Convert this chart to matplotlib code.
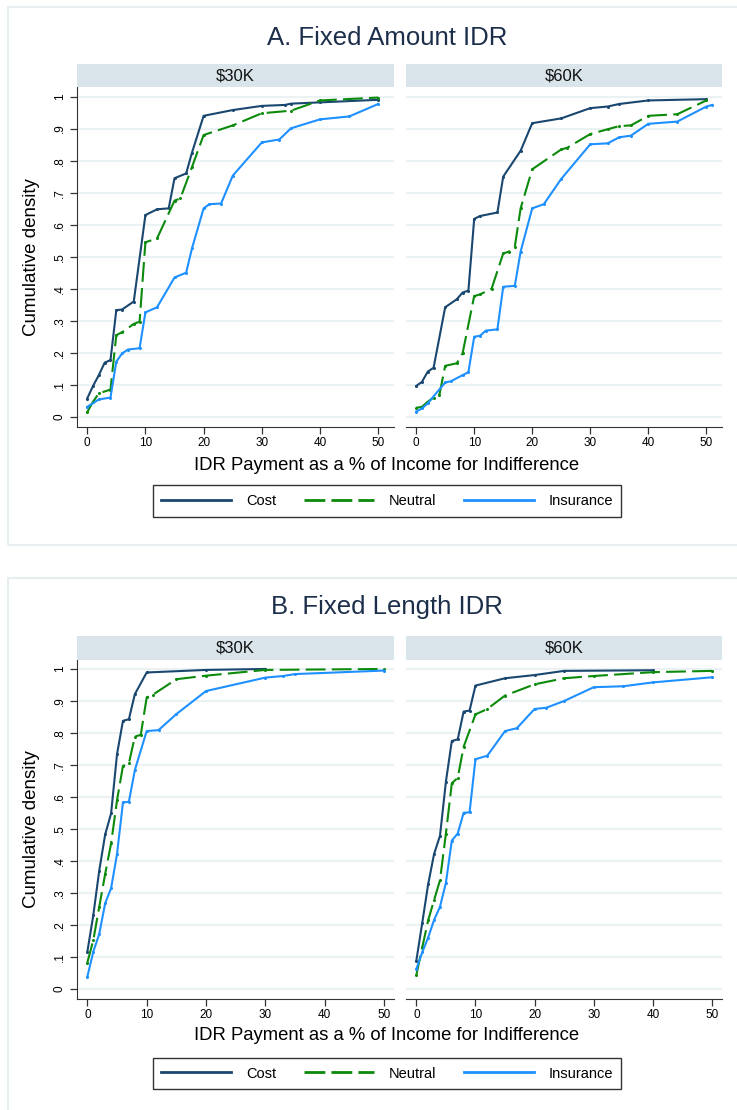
import matplotlib.pyplot as plt
from matplotlib.patches import Rectangle
from matplotlib.lines import Line2D

plt.rcParams['font.family'] = ['Liberation Sans', 'DejaVu Sans']

# ---- Panel A: Fixed Amount IDR ----
a30_cost_x = [0, 1, 2, 3, 4, 5, 6, 8, 10, 12, 14, 15, 17, 18, 20, 25, 30, 34, 35, 40, 50]
a30_cost_y = [0.057, 0.096, 0.13, 0.169, 0.177, 0.333, 0.335, 0.36, 0.63, 0.648, 0.651, 0.745,
              0.76, 0.825, 0.94, 0.958, 0.971, 0.974, 0.978, 0.982, 0.99]
a30_neut_x = [0, 1, 2, 4, 5, 6, 8, 9, 10, 12, 15, 16, 18, 20, 25, 30, 35, 40, 50]
a30_neut_y = [0.014, 0.047, 0.073, 0.085, 0.255, 0.264, 0.29, 0.297, 0.545, 0.557, 0.675, 0.682,
              0.78, 0.88, 0.91, 0.948, 0.956, 0.988, 0.997]
a30_ins_x = [0, 2, 4, 5, 6, 7, 9, 10, 12, 15, 17, 18, 20, 21, 23, 25, 30, 33, 35, 40, 45, 50]
a30_ins_y = [0.031, 0.054, 0.06, 0.172, 0.198, 0.21, 0.214, 0.326, 0.342, 0.435, 0.45, 0.526,
             0.651, 0.664, 0.666, 0.753, 0.857, 0.866, 0.901, 0.929, 0.938, 0.977]

a60_cost_x = [0, 1, 2, 3, 5, 7, 8, 9, 10, 11, 14, 15, 18, 20, 25, 30, 33, 35, 40, 50]
a60_cost_y = [0.096, 0.109, 0.141, 0.153, 0.342, 0.367, 0.388, 0.394, 0.618, 0.627, 0.638, 0.75,
              0.831, 0.917, 0.932, 0.964, 0.969, 0.977, 0.988, 0.992]
a60_neut_x = [0, 1, 2, 3, 4, 5, 7, 8, 10, 11, 13, 15, 16, 17, 18, 20, 25, 26, 30, 33, 35, 37,
              40, 45, 50]
a60_neut_y = [0.028, 0.031, 0.047, 0.06, 0.068, 0.159, 0.167, 0.198, 0.377, 0.382, 0.40, 0.51,
              0.516, 0.531, 0.651, 0.773, 0.835, 0.84, 0.883, 0.898, 0.908, 0.91, 0.94, 0.945,
              0.988]
a60_ins_x = [0, 1, 2, 5, 6, 8, 9, 10, 11, 12, 14, 15, 17, 18, 20, 22, 25, 30, 33, 35, 37, 40,
             45, 50, 51]
a60_ins_y = [0.016, 0.026, 0.042, 0.107, 0.111, 0.13, 0.139, 0.25, 0.253, 0.269, 0.273, 0.406,
             0.409, 0.516, 0.651, 0.664, 0.743, 0.851, 0.854, 0.873, 0.878, 0.915, 0.922,
             0.969, 0.974]

# ---- Panel B: Fixed Length IDR ----
b30_cost_x = [0, 1, 2, 3, 4, 5, 6, 7, 8, 10, 20, 30]
b30_cost_y = [0.117, 0.231, 0.37, 0.483, 0.549, 0.734, 0.838, 0.843, 0.921, 0.989, 0.997, 1.0]
b30_neut_x = [0, 1, 2, 3, 4, 5, 6, 7, 8, 9, 10, 11, 15, 20, 30, 50]
b30_neut_y = [0.083, 0.153, 0.257, 0.36, 0.455, 0.59, 0.697, 0.705, 0.789, 0.794, 0.911, 0.919,
              0.968, 0.979, 0.997, 1.0]
b30_ins_x = [0, 1, 2, 3, 4, 5, 6, 7, 8, 10, 12, 15, 20, 30, 33, 35, 50]
b30_ins_y = [0.039, 0.117, 0.172, 0.268, 0.315, 0.422, 0.583, 0.585, 0.684, 0.806, 0.809,
             0.859, 0.931, 0.973, 0.978, 0.984, 0.995]

b60_cost_x = [0, 1, 2, 3, 4, 5, 6, 7, 8, 9, 10, 15, 20, 25, 40]
b60_cost_y = [0.089, 0.207, 0.328, 0.422, 0.479, 0.648, 0.775, 0.78, 0.867, 0.87, 0.948, 0.971,
              0.981, 0.994, 0.996]
b60_neut_x = [0, 1, 2, 3, 4, 5, 6, 7, 8, 10, 12, 15, 20, 25, 30, 40, 50]
b60_neut_y = [0.044, 0.13, 0.215, 0.278, 0.34, 0.486, 0.643, 0.66, 0.757, 0.858, 0.875, 0.917,
              0.952, 0.971, 0.978, 0.99, 0.994]
b60_ins_x = [0, 1, 2, 3, 4, 5, 6, 7, 8, 9, 10, 12, 15, 17, 20, 22, 25, 30, 35, 40, 50]
b60_ins_y = [0.0625, 0.115, 0.161, 0.216, 0.257, 0.332, 0.464, 0.486, 0.551, 0.552, 0.718,
             0.729, 0.806, 0.815, 0.875, 0.879, 0.9, 0.943, 0.946, 0.958, 0.974]

series_names = ['Cost', 'Neutral', 'Insurance']
panel_titles = ['A. Fixed Amount IDR', 'B. Fixed Length IDR']
strip_labels = ['$30K', '$60K']
y_ticks = [0, .1, .2, .3, .4, .5, .6, .7, .8, .9, 1]
y_ticklabels = ['0', '.1', '.2', '.3', '.4', '.5', '.6', '.7', '.8', '.9', '1']
x_ticks = [0, 10, 20, 30, 40, 50]

colors = ['#1a476f', '#0b8a0b', '#1e90ff']
styles = ['-', (0, (9.5, 3)), '-']
leg_styles = ['-', (0, (7.5, 2.2)), '-']

W, H = 737, 1110
fig = plt.figure(figsize=(W / 100, H / 100), dpi=100)


def fx(px):
    return px / W


def fy(py):
    return 1 - py / H


panels = [
    dict(title=panel_titles[0], title_y=38, frame=(8, 7, 545), strip=(64, 87), plot=(87, 427),
         ylim=(-0.032, 1.030), xlim=(-1.75, 52.7), xlab_y=466, leg=(484, 518),
         data=[[(a30_cost_x, a30_cost_y), (a30_neut_x, a30_neut_y), (a30_ins_x, a30_ins_y)],
               [(a60_cost_x, a60_cost_y), (a60_neut_x, a60_neut_y), (a60_ins_x, a60_ins_y)]]),
    dict(title=panel_titles[1], title_y=607, frame=(8, 578, 1118), strip=(636, 660), plot=(660, 999),
         ylim=(-0.031, 1.028), xlim=(-1.75, 51.7), xlab_y=1036, leg=(1057, 1090),
         data=[[(b30_cost_x, b30_cost_y), (b30_neut_x, b30_neut_y), (b30_ins_x, b30_ins_y)],
               [(b60_cost_x, b60_cost_y), (b60_neut_x, b60_neut_y), (b60_ins_x, b60_ins_y)]]),
]

cols = [(77, 394), (406, 722)]
cx = 387

for p in panels:
    fl, ft, fb = p['frame']
    fig.patches.append(Rectangle((fx(fl), fy(fb)), fx(W + 10 - fl), fy(ft) - fy(fb),
                                 transform=fig.transFigure, fill=False,
                                 edgecolor='#e6eef0', lw=1.5, zorder=0))
    fig.text(fx(cx), fy(p['title_y']), p['title'], ha='center', va='center',
             fontsize=18.5, color='#1c2e4a')

    for j, (c0, c1) in enumerate(cols):
        s0, s1 = p['strip']
        fig.patches.append(Rectangle((fx(c0), fy(s1)), fx(c1 - c0), fy(s0) - fy(s1),
                                     transform=fig.transFigure, facecolor='#d9e5eb',
                                     edgecolor='none', zorder=1))
        fig.text(fx((c0 + c1) / 2), fy((s0 + s1) / 2), strip_labels[j], ha='center',
                 va='center', fontsize=12, color='#111111')

        t, b = p['plot']
        ax = fig.add_axes([fx(c0), fy(b), fx(c1 - c0), fy(t) - fy(b)])
        for k, (xs, ys) in enumerate(p['data'][j]):
            ax.plot(xs, ys, color=colors[k], linestyle=styles[k], lw=1.5,
                    marker='o', ms=1.2, zorder=3)
        ax.set_xlim(*p['xlim'])
        ax.set_ylim(*p['ylim'])
        ax.set_yticks(y_ticks)
        ax.set_xticks(x_ticks)
        ax.set_xticklabels([str(v) for v in x_ticks])
        ax.grid(axis='y', color='#eaf2f3', lw=1.5, zorder=0)
        ax.set_axisbelow(True)
        for s in ['top', 'right']:
            ax.spines[s].set_visible(False)
        ax.spines['bottom'].set_color('#333333')
        ax.tick_params(axis='x', length=5, width=0.9, color='#333333', labelsize=8.5, pad=2)
        if j == 0:
            ax.set_yticklabels(y_ticklabels, rotation=90, va='center')
            ax.spines['left'].set_color('#333333')
            ax.tick_params(axis='y', length=5, width=0.9, color='#333333', labelsize=8.5, pad=3)
            ax.set_ylabel('Cumulative density', fontsize=13.5, labelpad=10)
        else:
            ax.spines['left'].set_visible(False)
            ax.tick_params(axis='y', length=0, labelleft=False)

    fig.text(fx(cx), fy(p['xlab_y']), 'IDR Payment as a % of Income for Indifference',
             ha='center', va='center', fontsize=13.3)

    handles = [Line2D([], [], color=colors[k], linestyle=leg_styles[k], lw=2) for k in range(3)]
    l0, l1 = p['leg']
    leg = fig.legend(handles, series_names, loc='center', ncol=3,
                     bbox_to_anchor=(fx(cx), fy((l0 + l1) / 2)), fontsize=10.5,
                     frameon=True, fancybox=False, edgecolor='black', handlelength=4.8,
                     handletextpad=1.0, columnspacing=1.9, borderpad=0.6)
    leg.get_frame().set_linewidth(1.0)

fig.savefig('out.png', dpi=100, facecolor='white')
